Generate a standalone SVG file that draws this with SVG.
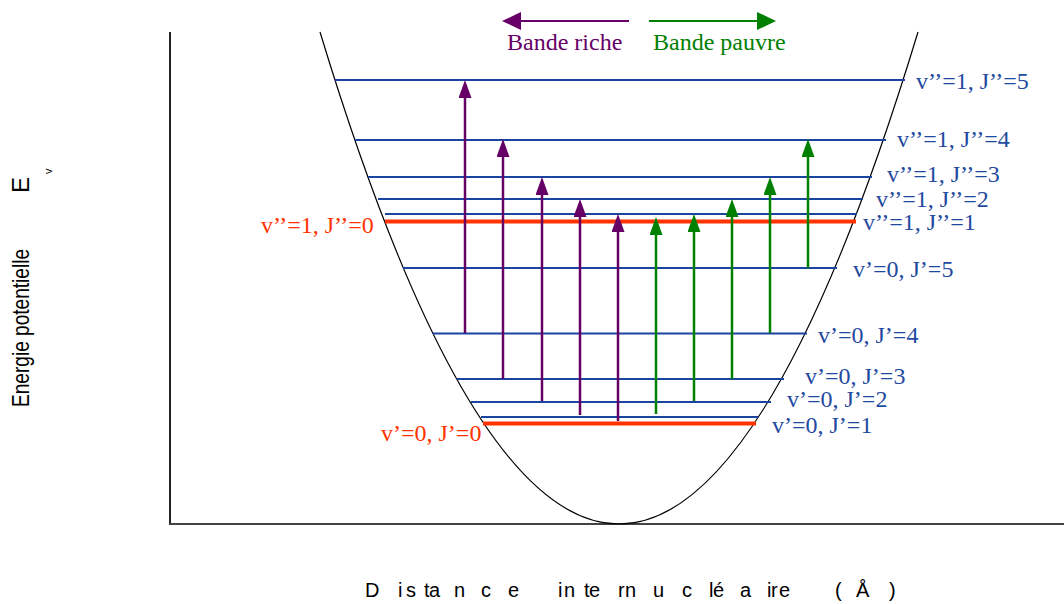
<svg xmlns="http://www.w3.org/2000/svg" width="1064" height="604" viewBox="0 0 1064 604">
<style>
.lvl{stroke:#1b44a0;stroke-width:2;fill:none}
.red{stroke:#ff3300;stroke-width:4;fill:none}
.lab{font-family:"Liberation Serif","Times New Roman",serif;font-size:24px;fill:#1f4aa0}
.rlab{font-family:"Liberation Serif","Times New Roman",serif;font-size:24px;fill:#ff3300}
.ax{font-family:"Liberation Sans",Arial,sans-serif;font-size:20px;fill:#000}
.pa{stroke:#660066;stroke-width:2.5;fill:none;marker-end:url(#hp)}
.ga{stroke:#008000;stroke-width:2.5;fill:none;marker-end:url(#hg)}
</style>
<defs>
<marker id="hp" markerUnits="userSpaceOnUse" markerWidth="18" markerHeight="13" refX="2" refY="6.5" orient="auto"><path d="M0,0 L18,6.5 L0,13 Z" fill="#660066"/></marker>
<marker id="hg" markerUnits="userSpaceOnUse" markerWidth="18" markerHeight="13" refX="2" refY="6.5" orient="auto"><path d="M0,0 L18,6.5 L0,13 Z" fill="#008000"/></marker>
<marker id="lp" markerUnits="userSpaceOnUse" markerWidth="19" markerHeight="18" refX="1" refY="9" orient="auto"><path d="M0,0 L19,9 L0,18 Z" fill="#660066"/></marker>
<marker id="lg" markerUnits="userSpaceOnUse" markerWidth="19" markerHeight="18" refX="1" refY="9" orient="auto"><path d="M0,0 L19,9 L0,18 Z" fill="#008000"/></marker>
</defs>
<rect width="1064" height="604" fill="#fff"/>

<g id="axes">
<line x1="170" y1="32" x2="170" y2="524" stroke="#222" stroke-width="2"/>
<line x1="169" y1="524" x2="1064" y2="524" stroke="#444" stroke-width="2"/>
<text class="ax" style="font-size:24px" transform="translate(29,407) rotate(-90)" textLength="158" lengthAdjust="spacingAndGlyphs">Energie potentielle</text>
<text class="ax" style="font-size:24px" transform="translate(29,193) rotate(-90)">E</text>
<text class="ax" style="font-size:11px" transform="translate(52,174) rotate(-90)">v</text>
<text class="ax" y="597" x="365 398 406 424 429 454 481 508 530 558 564 584 589 618 625 653 682 709 713 740 767 771 779 800 835 856 889">Distance internucléaire (Å)</text>
</g>

<g id="curve">
<path d="M320,32 Q619,1016 918,32" fill="none" stroke="#000" stroke-width="1.2"/>
</g>

<g id="levels">
<g id="l-v1-J5"><line class="lvl" x1="335" y1="80" x2="905" y2="80"/><text class="lab" x="916" y="89">v’’=1, J’’=5</text></g>
<g id="l-v1-J4"><line class="lvl" x1="355" y1="140" x2="886" y2="140"/><text class="lab" x="897" y="147">v’’=1, J’’=4</text></g>
<g id="l-v1-J3"><line class="lvl" x1="368" y1="177" x2="872" y2="177"/><text class="lab" x="887" y="182">v’’=1, J’’=3</text></g>
<g id="l-v1-J2"><line class="lvl" x1="378" y1="199" x2="863" y2="199"/><text class="lab" x="876" y="207">v’’=1, J’’=2</text></g>
<g id="l-v1-J1"><line class="lvl" x1="385" y1="214" x2="857" y2="214"/><text class="lab" x="863" y="230">v’’=1, J’’=1</text></g>
<g id="l-v1-J0"><line class="red" x1="385" y1="221.5" x2="856" y2="221.5"/><text class="rlab" x="261" y="233">v’’=1, J’’=0</text></g>
<g id="l-v0-J5"><line class="lvl" x1="403" y1="268" x2="837" y2="268"/><text class="lab" x="853" y="277">v’=0, J’=5</text></g>
<g id="l-v0-J4"><line class="lvl" x1="433" y1="333.5" x2="807" y2="333.5"/><text class="lab" x="818" y="343">v’=0, J’=4</text></g>
<g id="l-v0-J3"><line class="lvl" x1="457" y1="379" x2="784" y2="379"/><text class="lab" x="805" y="384">v’=0, J’=3</text></g>
<g id="l-v0-J2"><line class="lvl" x1="471" y1="402" x2="771" y2="402"/><text class="lab" x="787" y="407">v’=0, J’=2</text></g>
<g id="l-v0-J1"><line class="lvl" x1="481" y1="417" x2="758" y2="417"/><text class="lab" x="772" y="433">v’=0, J’=1</text></g>
<g id="l-v0-J0"><line class="red" x1="483" y1="423.5" x2="756" y2="423.5"/><text class="rlab" x="381" y="441">v’=0, J’=0</text></g>
</g>

<g id="connectors">
<path class="pa" d="M465,333 V96"/>
<path class="pa" d="M503,379 V155"/>
<path class="pa" d="M542,401 V193"/>
<path class="pa" d="M580,415 V215"/>
<path class="pa" d="M618,421 V230"/>
<path class="ga" d="M656,414 V233"/>
<path class="ga" d="M694,401 V230"/>
<path class="ga" d="M732,379 V215"/>
<path class="ga" d="M770,333 V193"/>
<path class="ga" d="M808,268 V155"/>
</g>

<g id="legend">
<g id="leg-riche"><path d="M629,21 H520" stroke="#660066" stroke-width="2" fill="none" marker-end="url(#lp)"/><text class="lab" style="fill:#660066" x="507" y="50">Bande riche</text></g>
<g id="leg-pauvre"><path d="M649,21 H758" stroke="#008000" stroke-width="2" fill="none" marker-end="url(#lg)"/><text class="lab" style="fill:#008000" x="653" y="50">Bande pauvre</text></g>
</g>
</svg>
